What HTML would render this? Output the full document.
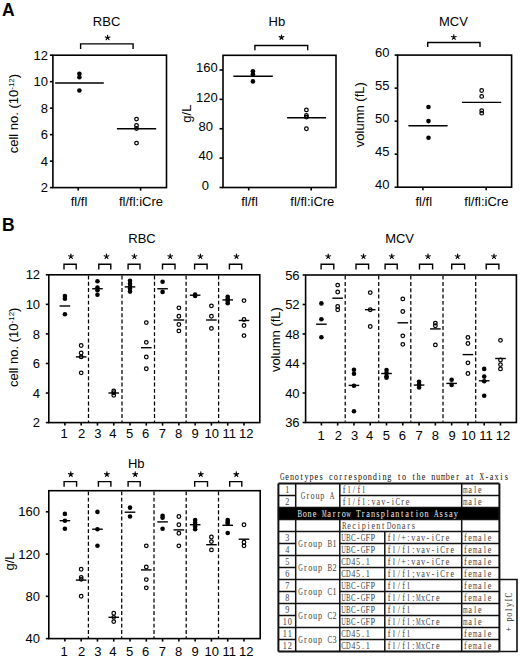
<!DOCTYPE html>
<html><head><meta charset="utf-8"><style>
html,body{margin:0;padding:0;background:#fff;width:520px;height:661px;overflow:hidden}
svg{display:block}
</style></head><body>
<svg width="520" height="661" viewBox="0 0 520 661" font-family='"Liberation Sans", sans-serif' fill="#000" stroke="#000">
<g class="charts">
<text stroke="none" x="2.00" y="16.00" text-anchor="start" font-size="17.5" font-weight="bold">A</text>
<rect x="52.90" y="55.20" width="113.60" height="132.40" fill="none" stroke-width="1.6"/>
<line x1="49.90" y1="187.60" x2="52.90" y2="187.60" stroke-width="1.6" />
<text stroke="none" x="47.90" y="192.20" text-anchor="end" font-size="13" >2</text>
<line x1="49.90" y1="161.12" x2="52.90" y2="161.12" stroke-width="1.6" />
<text stroke="none" x="47.90" y="165.72" text-anchor="end" font-size="13" >4</text>
<line x1="49.90" y1="134.64" x2="52.90" y2="134.64" stroke-width="1.6" />
<text stroke="none" x="47.90" y="139.24" text-anchor="end" font-size="13" >6</text>
<line x1="49.90" y1="108.16" x2="52.90" y2="108.16" stroke-width="1.6" />
<text stroke="none" x="47.90" y="112.76" text-anchor="end" font-size="13" >8</text>
<line x1="49.90" y1="81.68" x2="52.90" y2="81.68" stroke-width="1.6" />
<text stroke="none" x="47.90" y="86.28" text-anchor="end" font-size="13" >10</text>
<line x1="49.90" y1="55.20" x2="52.90" y2="55.20" stroke-width="1.6" />
<text stroke="none" x="47.90" y="59.80" text-anchor="end" font-size="13" >12</text>
<line x1="78.20" y1="187.60" x2="78.20" y2="190.60" stroke-width="1.6" />
<line x1="140.60" y1="187.60" x2="140.60" y2="190.60" stroke-width="1.6" />
<text stroke="none" x="79.00" y="205.70" text-anchor="middle" font-size="13" >fl/fl</text>
<text stroke="none" x="141.00" y="205.70" text-anchor="middle" font-size="13" >fl/fl:iCre</text>
<text stroke="none" x="106.60" y="25.60" text-anchor="middle" font-size="13" >RBC</text>
<path d="M80.60,49.00 V43.90 H133.10 V49.00" fill="none" stroke-width="1.4" stroke-linejoin="miter"/>
<path d="M107.60,37.70L107.60,35.25M107.60,37.70L109.93,36.94M107.60,37.70L109.04,39.68M107.60,37.70L106.16,39.68M107.60,37.70L105.27,36.94" fill="none" stroke-width="1.15" stroke-linecap="round"/>
<text stroke="none" transform="translate(17.80,113.60) rotate(-90)" text-anchor="middle" font-size="13">cell no. (10<tspan font-size="8" dy="-3.8">-12</tspan><tspan dy="3.8">)</tspan></text>
<circle cx="79.40" cy="73.80" r="2.3" fill="#000" stroke="none"/>
<circle cx="79.40" cy="77.30" r="2.3" fill="#000" stroke="none"/>
<circle cx="79.40" cy="90.50" r="2.3" fill="#000" stroke="none"/>
<line x1="55.10" y1="83.00" x2="103.80" y2="83.00" stroke-width="1.4" />
<circle cx="136.50" cy="119.10" r="1.8" fill="none" stroke-width="1.25"/>
<circle cx="136.50" cy="125.50" r="1.8" fill="none" stroke-width="1.25"/>
<circle cx="136.50" cy="128.50" r="1.8" fill="none" stroke-width="1.25"/>
<circle cx="136.50" cy="143.10" r="1.8" fill="none" stroke-width="1.25"/>
<line x1="116.90" y1="128.80" x2="156.20" y2="128.80" stroke-width="1.4" />
<rect x="223.00" y="55.30" width="113.00" height="132.20" fill="none" stroke-width="1.6"/>
<line x1="219.50" y1="187.50" x2="223.00" y2="187.50" stroke-width="1.6" />
<text stroke="none" x="205.45" y="189.65" text-anchor="middle" font-size="13" >0</text>
<line x1="219.50" y1="158.12" x2="223.00" y2="158.12" stroke-width="1.6" />
<text stroke="none" x="205.85" y="160.27" text-anchor="middle" font-size="13" >40</text>
<line x1="219.50" y1="128.74" x2="223.00" y2="128.74" stroke-width="1.6" />
<text stroke="none" x="205.75" y="130.89" text-anchor="middle" font-size="13" >80</text>
<line x1="219.50" y1="99.37" x2="223.00" y2="99.37" stroke-width="1.6" />
<text stroke="none" x="206.90" y="101.52" text-anchor="middle" font-size="13" >120</text>
<line x1="219.50" y1="69.99" x2="223.00" y2="69.99" stroke-width="1.6" />
<text stroke="none" x="206.80" y="72.14" text-anchor="middle" font-size="13" >160</text>
<line x1="248.70" y1="187.50" x2="248.70" y2="190.50" stroke-width="1.6" />
<line x1="311.20" y1="187.50" x2="311.20" y2="190.50" stroke-width="1.6" />
<text stroke="none" x="249.50" y="205.70" text-anchor="middle" font-size="13" >fl/fl</text>
<text stroke="none" x="312.30" y="205.70" text-anchor="middle" font-size="13" >fl/fl:iCre</text>
<text stroke="none" x="276.90" y="26.00" text-anchor="middle" font-size="13" >Hb</text>
<path d="M254.90,50.30 V45.45 H307.70 V50.30" fill="none" stroke-width="1.4" stroke-linejoin="miter"/>
<path d="M281.50,37.40L281.50,34.95M281.50,37.40L283.83,36.64M281.50,37.40L282.94,39.38M281.50,37.40L280.06,39.38M281.50,37.40L279.17,36.64" fill="none" stroke-width="1.15" stroke-linecap="round"/>
<text stroke="none" transform="translate(190.60,113.60) rotate(-90)" text-anchor="middle" font-size="13">g/L</text>
<circle cx="252.90" cy="71.30" r="2.3" fill="#000" stroke="none"/>
<circle cx="252.90" cy="74.20" r="2.3" fill="#000" stroke="none"/>
<circle cx="252.90" cy="81.40" r="2.3" fill="#000" stroke="none"/>
<line x1="233.30" y1="76.20" x2="272.80" y2="76.20" stroke-width="1.4" />
<circle cx="306.40" cy="109.90" r="1.8" fill="none" stroke-width="1.25"/>
<circle cx="306.40" cy="115.40" r="1.8" fill="none" stroke-width="1.25"/>
<circle cx="306.40" cy="117.10" r="1.8" fill="none" stroke-width="1.25"/>
<circle cx="306.40" cy="128.70" r="1.8" fill="none" stroke-width="1.25"/>
<line x1="287.10" y1="117.80" x2="326.10" y2="117.80" stroke-width="1.4" />
<rect x="397.60" y="55.10" width="114.00" height="132.10" fill="none" stroke-width="1.6"/>
<line x1="394.60" y1="187.20" x2="397.60" y2="187.20" stroke-width="1.6" />
<text stroke="none" x="389.50" y="189.35" text-anchor="end" font-size="13" >40</text>
<line x1="394.60" y1="154.17" x2="397.60" y2="154.17" stroke-width="1.6" />
<text stroke="none" x="389.50" y="156.32" text-anchor="end" font-size="13" >45</text>
<line x1="394.60" y1="121.15" x2="397.60" y2="121.15" stroke-width="1.6" />
<text stroke="none" x="389.50" y="123.30" text-anchor="end" font-size="13" >50</text>
<line x1="394.60" y1="88.12" x2="397.60" y2="88.12" stroke-width="1.6" />
<text stroke="none" x="389.50" y="90.27" text-anchor="end" font-size="13" >55</text>
<line x1="394.60" y1="55.10" x2="397.60" y2="55.10" stroke-width="1.6" />
<text stroke="none" x="389.50" y="57.25" text-anchor="end" font-size="13" >60</text>
<line x1="422.90" y1="187.20" x2="422.90" y2="190.20" stroke-width="1.6" />
<line x1="486.20" y1="187.20" x2="486.20" y2="190.20" stroke-width="1.6" />
<text stroke="none" x="423.80" y="205.70" text-anchor="middle" font-size="13" >fl/fl</text>
<text stroke="none" x="486.40" y="205.70" text-anchor="middle" font-size="13" >fl/fl:iCre</text>
<text stroke="none" x="453.40" y="25.60" text-anchor="middle" font-size="13" >MCV</text>
<path d="M427.70,47.10 V42.50 H480.00 V47.10" fill="none" stroke-width="1.4" stroke-linejoin="miter"/>
<path d="M453.80,37.30L453.80,34.85M453.80,37.30L456.13,36.54M453.80,37.30L455.24,39.28M453.80,37.30L452.36,39.28M453.80,37.30L451.47,36.54" fill="none" stroke-width="1.15" stroke-linecap="round"/>
<text stroke="none" transform="translate(363.50,114.70) rotate(-90)" text-anchor="middle" font-size="13">volumn (fL)</text>
<circle cx="428.50" cy="107.00" r="2.3" fill="#000" stroke="none"/>
<circle cx="428.50" cy="121.10" r="2.3" fill="#000" stroke="none"/>
<circle cx="428.50" cy="137.70" r="2.3" fill="#000" stroke="none"/>
<line x1="408.40" y1="125.70" x2="447.60" y2="125.70" stroke-width="1.4" />
<circle cx="481.70" cy="90.50" r="1.8" fill="none" stroke-width="1.25"/>
<circle cx="481.70" cy="96.40" r="1.8" fill="none" stroke-width="1.25"/>
<circle cx="481.70" cy="110.60" r="1.8" fill="none" stroke-width="1.25"/>
<circle cx="481.70" cy="113.20" r="1.8" fill="none" stroke-width="1.25"/>
<line x1="461.90" y1="102.40" x2="501.20" y2="102.40" stroke-width="1.4" />
<text stroke="none" x="2.00" y="230.80" text-anchor="start" font-size="17.5" font-weight="bold">B</text>
<rect x="48.80" y="274.80" width="211.00" height="147.80" fill="none" stroke-width="1.6"/>
<line x1="45.80" y1="422.60" x2="48.80" y2="422.60" stroke-width="1.6" />
<text stroke="none" x="40.10" y="427.20" text-anchor="end" font-size="13" >2</text>
<line x1="45.80" y1="393.04" x2="48.80" y2="393.04" stroke-width="1.6" />
<text stroke="none" x="40.10" y="397.64" text-anchor="end" font-size="13" >4</text>
<line x1="45.80" y1="363.48" x2="48.80" y2="363.48" stroke-width="1.6" />
<text stroke="none" x="40.10" y="368.08" text-anchor="end" font-size="13" >6</text>
<line x1="45.80" y1="333.92" x2="48.80" y2="333.92" stroke-width="1.6" />
<text stroke="none" x="40.10" y="338.52" text-anchor="end" font-size="13" >8</text>
<line x1="45.80" y1="304.36" x2="48.80" y2="304.36" stroke-width="1.6" />
<text stroke="none" x="40.10" y="308.96" text-anchor="end" font-size="13" >10</text>
<line x1="45.80" y1="274.80" x2="48.80" y2="274.80" stroke-width="1.6" />
<text stroke="none" x="40.10" y="279.40" text-anchor="end" font-size="13" >12</text>
<line x1="64.90" y1="422.60" x2="64.90" y2="425.60" stroke-width="1.6" />
<text stroke="none" x="64.20" y="438.40" text-anchor="middle" font-size="13" >1</text>
<line x1="81.18" y1="422.60" x2="81.18" y2="425.60" stroke-width="1.6" />
<text stroke="none" x="81.50" y="438.40" text-anchor="middle" font-size="13" >2</text>
<line x1="97.46" y1="422.60" x2="97.46" y2="425.60" stroke-width="1.6" />
<text stroke="none" x="97.80" y="438.40" text-anchor="middle" font-size="13" >3</text>
<line x1="113.74" y1="422.60" x2="113.74" y2="425.60" stroke-width="1.6" />
<text stroke="none" x="112.90" y="438.40" text-anchor="middle" font-size="13" >4</text>
<line x1="130.02" y1="422.60" x2="130.02" y2="425.60" stroke-width="1.6" />
<text stroke="none" x="129.60" y="438.40" text-anchor="middle" font-size="13" >5</text>
<line x1="146.30" y1="422.60" x2="146.30" y2="425.60" stroke-width="1.6" />
<text stroke="none" x="145.60" y="438.40" text-anchor="middle" font-size="13" >6</text>
<line x1="162.58" y1="422.60" x2="162.58" y2="425.60" stroke-width="1.6" />
<text stroke="none" x="162.30" y="438.40" text-anchor="middle" font-size="13" >7</text>
<line x1="178.86" y1="422.60" x2="178.86" y2="425.60" stroke-width="1.6" />
<text stroke="none" x="178.50" y="438.40" text-anchor="middle" font-size="13" >8</text>
<line x1="195.14" y1="422.60" x2="195.14" y2="425.60" stroke-width="1.6" />
<text stroke="none" x="195.20" y="438.40" text-anchor="middle" font-size="13" >9</text>
<line x1="211.42" y1="422.60" x2="211.42" y2="425.60" stroke-width="1.6" />
<text stroke="none" x="211.80" y="438.40" text-anchor="middle" font-size="13" >10</text>
<line x1="227.70" y1="422.60" x2="227.70" y2="425.60" stroke-width="1.6" />
<text stroke="none" x="229.20" y="438.40" text-anchor="middle" font-size="13" >11</text>
<line x1="243.98" y1="422.60" x2="243.98" y2="425.60" stroke-width="1.6" />
<text stroke="none" x="246.30" y="438.40" text-anchor="middle" font-size="13" >12</text>
<line x1="88.50" y1="275.50" x2="88.50" y2="421.90" stroke-width="1.25" stroke-dasharray="3.9,2.4"/>
<line x1="122.00" y1="275.50" x2="122.00" y2="421.90" stroke-width="1.25" stroke-dasharray="3.9,2.4"/>
<line x1="154.50" y1="275.50" x2="154.50" y2="421.90" stroke-width="1.25" stroke-dasharray="3.9,2.4"/>
<line x1="186.10" y1="275.50" x2="186.10" y2="421.90" stroke-width="1.25" stroke-dasharray="3.9,2.4"/>
<line x1="218.60" y1="275.50" x2="218.60" y2="421.90" stroke-width="1.25" stroke-dasharray="3.9,2.4"/>
<text stroke="none" x="142.00" y="243.30" text-anchor="middle" font-size="13" >RBC</text>
<path d="M64.00,269.40 V264.20 H76.20 V269.40" fill="none" stroke-width="1.4" stroke-linejoin="miter"/>
<path d="M70.90,256.50L70.90,254.05M70.90,256.50L73.23,255.74M70.90,256.50L72.34,258.48M70.90,256.50L69.46,258.48M70.90,256.50L68.57,255.74" fill="none" stroke-width="1.15" stroke-linecap="round"/>
<path d="M98.80,269.40 V264.20 H110.80 V269.40" fill="none" stroke-width="1.4" stroke-linejoin="miter"/>
<path d="M106.50,256.50L106.50,254.05M106.50,256.50L108.83,255.74M106.50,256.50L107.94,258.48M106.50,256.50L105.06,258.48M106.50,256.50L104.17,255.74" fill="none" stroke-width="1.15" stroke-linecap="round"/>
<path d="M128.10,269.40 V264.20 H140.00 V269.40" fill="none" stroke-width="1.4" stroke-linejoin="miter"/>
<path d="M134.40,256.50L134.40,254.05M134.40,256.50L136.73,255.74M134.40,256.50L135.84,258.48M134.40,256.50L132.96,258.48M134.40,256.50L132.07,255.74" fill="none" stroke-width="1.15" stroke-linecap="round"/>
<path d="M162.50,269.40 V264.20 H175.00 V269.40" fill="none" stroke-width="1.4" stroke-linejoin="miter"/>
<path d="M170.20,256.50L170.20,254.05M170.20,256.50L172.53,255.74M170.20,256.50L171.64,258.48M170.20,256.50L168.76,258.48M170.20,256.50L167.87,255.74" fill="none" stroke-width="1.15" stroke-linecap="round"/>
<path d="M194.60,269.40 V264.20 H207.10 V269.40" fill="none" stroke-width="1.4" stroke-linejoin="miter"/>
<path d="M200.40,256.50L200.40,254.05M200.40,256.50L202.73,255.74M200.40,256.50L201.84,258.48M200.40,256.50L198.96,258.48M200.40,256.50L198.07,255.74" fill="none" stroke-width="1.15" stroke-linecap="round"/>
<path d="M229.40,269.40 V264.20 H241.70 V269.40" fill="none" stroke-width="1.4" stroke-linejoin="miter"/>
<path d="M236.50,256.50L236.50,254.05M236.50,256.50L238.83,255.74M236.50,256.50L237.94,258.48M236.50,256.50L235.06,258.48M236.50,256.50L234.17,255.74" fill="none" stroke-width="1.15" stroke-linecap="round"/>
<circle cx="64.90" cy="296.00" r="2.3" fill="#000" stroke="none"/>
<circle cx="64.90" cy="298.80" r="2.3" fill="#000" stroke="none"/>
<circle cx="64.90" cy="314.30" r="2.3" fill="#000" stroke="none"/>
<line x1="59.60" y1="306.00" x2="70.20" y2="306.00" stroke-width="1.4" />
<circle cx="81.18" cy="345.50" r="1.8" fill="none" stroke-width="1.25"/>
<circle cx="81.18" cy="353.00" r="1.8" fill="none" stroke-width="1.25"/>
<circle cx="81.18" cy="356.90" r="1.8" fill="none" stroke-width="1.25"/>
<circle cx="81.18" cy="372.80" r="1.8" fill="none" stroke-width="1.25"/>
<line x1="75.88" y1="356.90" x2="86.48" y2="356.90" stroke-width="1.4" />
<circle cx="97.46" cy="281.25" r="2.3" fill="#000" stroke="none"/>
<circle cx="97.46" cy="287.60" r="2.3" fill="#000" stroke="none"/>
<circle cx="97.46" cy="290.20" r="2.3" fill="#000" stroke="none"/>
<circle cx="97.46" cy="294.80" r="2.3" fill="#000" stroke="none"/>
<line x1="92.16" y1="288.75" x2="102.76" y2="288.75" stroke-width="1.4" />
<circle cx="113.74" cy="391.00" r="1.8" fill="none" stroke-width="1.25"/>
<circle cx="113.74" cy="392.70" r="1.8" fill="none" stroke-width="1.25"/>
<circle cx="113.74" cy="395.30" r="1.8" fill="none" stroke-width="1.25"/>
<line x1="108.44" y1="393.00" x2="119.04" y2="393.00" stroke-width="1.4" />
<circle cx="130.02" cy="280.80" r="2.3" fill="#000" stroke="none"/>
<circle cx="130.02" cy="283.70" r="2.3" fill="#000" stroke="none"/>
<circle cx="130.02" cy="286.60" r="2.3" fill="#000" stroke="none"/>
<circle cx="130.02" cy="288.80" r="2.3" fill="#000" stroke="none"/>
<circle cx="130.02" cy="291.60" r="2.3" fill="#000" stroke="none"/>
<line x1="124.72" y1="286.90" x2="135.32" y2="286.90" stroke-width="1.4" />
<circle cx="146.30" cy="322.60" r="1.8" fill="none" stroke-width="1.25"/>
<circle cx="146.30" cy="342.30" r="1.8" fill="none" stroke-width="1.25"/>
<circle cx="146.30" cy="357.00" r="1.8" fill="none" stroke-width="1.25"/>
<circle cx="146.30" cy="368.70" r="1.8" fill="none" stroke-width="1.25"/>
<line x1="141.00" y1="347.70" x2="151.60" y2="347.70" stroke-width="1.4" />
<circle cx="162.58" cy="281.80" r="2.3" fill="#000" stroke="none"/>
<circle cx="162.58" cy="291.90" r="2.3" fill="#000" stroke="none"/>
<line x1="157.28" y1="288.75" x2="167.88" y2="288.75" stroke-width="1.4" />
<circle cx="178.86" cy="307.80" r="1.8" fill="none" stroke-width="1.25"/>
<circle cx="178.86" cy="316.20" r="1.8" fill="none" stroke-width="1.25"/>
<circle cx="178.86" cy="324.50" r="1.8" fill="none" stroke-width="1.25"/>
<circle cx="178.86" cy="330.90" r="1.8" fill="none" stroke-width="1.25"/>
<line x1="173.56" y1="320.00" x2="184.16" y2="320.00" stroke-width="1.4" />
<circle cx="195.14" cy="294.50" r="2.3" fill="#000" stroke="none"/>
<circle cx="195.14" cy="296.00" r="2.3" fill="#000" stroke="none"/>
<line x1="189.84" y1="295.20" x2="200.44" y2="295.20" stroke-width="1.4" />
<circle cx="211.42" cy="305.80" r="1.8" fill="none" stroke-width="1.25"/>
<circle cx="211.42" cy="316.20" r="1.8" fill="none" stroke-width="1.25"/>
<circle cx="211.42" cy="328.40" r="1.8" fill="none" stroke-width="1.25"/>
<line x1="206.12" y1="320.00" x2="216.72" y2="320.00" stroke-width="1.4" />
<circle cx="227.70" cy="296.70" r="2.3" fill="#000" stroke="none"/>
<circle cx="227.70" cy="298.80" r="2.3" fill="#000" stroke="none"/>
<circle cx="227.70" cy="301.00" r="2.3" fill="#000" stroke="none"/>
<circle cx="227.70" cy="303.20" r="2.3" fill="#000" stroke="none"/>
<line x1="222.40" y1="299.90" x2="233.00" y2="299.90" stroke-width="1.4" />
<circle cx="243.98" cy="300.60" r="1.8" fill="none" stroke-width="1.25"/>
<circle cx="243.98" cy="319.50" r="1.8" fill="none" stroke-width="1.25"/>
<circle cx="243.98" cy="325.50" r="1.8" fill="none" stroke-width="1.25"/>
<circle cx="243.98" cy="335.60" r="1.8" fill="none" stroke-width="1.25"/>
<line x1="238.68" y1="320.50" x2="249.28" y2="320.50" stroke-width="1.4" />
<text stroke="none" transform="translate(17.80,347.30) rotate(-90)" text-anchor="middle" font-size="13">cell no. (10<tspan font-size="8" dy="-3.8">-12</tspan><tspan dy="3.8">)</tspan></text>
<rect x="305.60" y="275.00" width="210.80" height="147.50" fill="none" stroke-width="1.6"/>
<line x1="302.60" y1="422.50" x2="305.60" y2="422.50" stroke-width="1.6" />
<text stroke="none" x="299.60" y="427.10" text-anchor="end" font-size="13" >36</text>
<line x1="302.60" y1="393.00" x2="305.60" y2="393.00" stroke-width="1.6" />
<text stroke="none" x="299.60" y="397.60" text-anchor="end" font-size="13" >40</text>
<line x1="302.60" y1="363.50" x2="305.60" y2="363.50" stroke-width="1.6" />
<text stroke="none" x="299.60" y="368.10" text-anchor="end" font-size="13" >44</text>
<line x1="302.60" y1="334.00" x2="305.60" y2="334.00" stroke-width="1.6" />
<text stroke="none" x="299.60" y="338.60" text-anchor="end" font-size="13" >48</text>
<line x1="302.60" y1="304.50" x2="305.60" y2="304.50" stroke-width="1.6" />
<text stroke="none" x="299.60" y="309.10" text-anchor="end" font-size="13" >52</text>
<line x1="302.60" y1="275.00" x2="305.60" y2="275.00" stroke-width="1.6" />
<text stroke="none" x="299.60" y="279.60" text-anchor="end" font-size="13" >56</text>
<line x1="321.40" y1="422.50" x2="321.40" y2="425.50" stroke-width="1.6" />
<text stroke="none" x="321.00" y="439.50" text-anchor="middle" font-size="13" >1</text>
<line x1="337.68" y1="422.50" x2="337.68" y2="425.50" stroke-width="1.6" />
<text stroke="none" x="338.30" y="439.50" text-anchor="middle" font-size="13" >2</text>
<line x1="353.96" y1="422.50" x2="353.96" y2="425.50" stroke-width="1.6" />
<text stroke="none" x="354.60" y="439.50" text-anchor="middle" font-size="13" >3</text>
<line x1="370.24" y1="422.50" x2="370.24" y2="425.50" stroke-width="1.6" />
<text stroke="none" x="369.70" y="439.50" text-anchor="middle" font-size="13" >4</text>
<line x1="386.52" y1="422.50" x2="386.52" y2="425.50" stroke-width="1.6" />
<text stroke="none" x="386.40" y="439.50" text-anchor="middle" font-size="13" >5</text>
<line x1="402.80" y1="422.50" x2="402.80" y2="425.50" stroke-width="1.6" />
<text stroke="none" x="402.40" y="439.50" text-anchor="middle" font-size="13" >6</text>
<line x1="419.08" y1="422.50" x2="419.08" y2="425.50" stroke-width="1.6" />
<text stroke="none" x="419.10" y="439.50" text-anchor="middle" font-size="13" >7</text>
<line x1="435.36" y1="422.50" x2="435.36" y2="425.50" stroke-width="1.6" />
<text stroke="none" x="435.30" y="439.50" text-anchor="middle" font-size="13" >8</text>
<line x1="451.64" y1="422.50" x2="451.64" y2="425.50" stroke-width="1.6" />
<text stroke="none" x="452.00" y="439.50" text-anchor="middle" font-size="13" >9</text>
<line x1="467.92" y1="422.50" x2="467.92" y2="425.50" stroke-width="1.6" />
<text stroke="none" x="468.60" y="439.50" text-anchor="middle" font-size="13" >10</text>
<line x1="484.20" y1="422.50" x2="484.20" y2="425.50" stroke-width="1.6" />
<text stroke="none" x="486.00" y="439.50" text-anchor="middle" font-size="13" >11</text>
<line x1="500.48" y1="422.50" x2="500.48" y2="425.50" stroke-width="1.6" />
<text stroke="none" x="503.10" y="439.50" text-anchor="middle" font-size="13" >12</text>
<line x1="345.20" y1="275.70" x2="345.20" y2="421.80" stroke-width="1.25" stroke-dasharray="3.9,2.4"/>
<line x1="378.70" y1="275.70" x2="378.70" y2="421.80" stroke-width="1.25" stroke-dasharray="3.9,2.4"/>
<line x1="410.80" y1="275.70" x2="410.80" y2="421.80" stroke-width="1.25" stroke-dasharray="3.9,2.4"/>
<line x1="443.00" y1="275.70" x2="443.00" y2="421.80" stroke-width="1.25" stroke-dasharray="3.9,2.4"/>
<line x1="475.70" y1="275.70" x2="475.70" y2="421.80" stroke-width="1.25" stroke-dasharray="3.9,2.4"/>
<text stroke="none" x="399.60" y="243.20" text-anchor="middle" font-size="13" >MCV</text>
<path d="M321.10,269.40 V264.20 H333.80 V269.40" fill="none" stroke-width="1.4" stroke-linejoin="miter"/>
<path d="M328.20,256.50L328.20,254.05M328.20,256.50L330.53,255.74M328.20,256.50L329.64,258.48M328.20,256.50L326.76,258.48M328.20,256.50L325.87,255.74" fill="none" stroke-width="1.15" stroke-linecap="round"/>
<path d="M356.00,269.40 V264.20 H368.60 V269.40" fill="none" stroke-width="1.4" stroke-linejoin="miter"/>
<path d="M363.50,256.50L363.50,254.05M363.50,256.50L365.83,255.74M363.50,256.50L364.94,258.48M363.50,256.50L362.06,258.48M363.50,256.50L361.17,255.74" fill="none" stroke-width="1.15" stroke-linecap="round"/>
<path d="M385.10,269.40 V264.20 H397.20 V269.40" fill="none" stroke-width="1.4" stroke-linejoin="miter"/>
<path d="M391.80,256.50L391.80,254.05M391.80,256.50L394.13,255.74M391.80,256.50L393.24,258.48M391.80,256.50L390.36,258.48M391.80,256.50L389.47,255.74" fill="none" stroke-width="1.15" stroke-linecap="round"/>
<path d="M419.50,269.40 V264.20 H432.60 V269.40" fill="none" stroke-width="1.4" stroke-linejoin="miter"/>
<path d="M428.00,256.50L428.00,254.05M428.00,256.50L430.33,255.74M428.00,256.50L429.44,258.48M428.00,256.50L426.56,258.48M428.00,256.50L425.67,255.74" fill="none" stroke-width="1.15" stroke-linecap="round"/>
<path d="M451.70,269.40 V264.20 H464.60 V269.40" fill="none" stroke-width="1.4" stroke-linejoin="miter"/>
<path d="M457.60,256.50L457.60,254.05M457.60,256.50L459.93,255.74M457.60,256.50L459.04,258.48M457.60,256.50L456.16,258.48M457.60,256.50L455.27,255.74" fill="none" stroke-width="1.15" stroke-linecap="round"/>
<path d="M486.20,269.40 V264.20 H498.90 V269.40" fill="none" stroke-width="1.4" stroke-linejoin="miter"/>
<path d="M494.00,256.50L494.00,254.05M494.00,256.50L496.33,255.74M494.00,256.50L495.44,258.48M494.00,256.50L492.56,258.48M494.00,256.50L491.67,255.74" fill="none" stroke-width="1.15" stroke-linecap="round"/>
<circle cx="321.40" cy="303.40" r="2.3" fill="#000" stroke="none"/>
<circle cx="321.40" cy="319.20" r="2.3" fill="#000" stroke="none"/>
<circle cx="321.40" cy="337.20" r="2.3" fill="#000" stroke="none"/>
<line x1="316.10" y1="324.20" x2="326.70" y2="324.20" stroke-width="1.4" />
<circle cx="337.68" cy="285.10" r="1.8" fill="none" stroke-width="1.25"/>
<circle cx="337.68" cy="292.00" r="1.8" fill="none" stroke-width="1.25"/>
<circle cx="337.68" cy="306.50" r="1.8" fill="none" stroke-width="1.25"/>
<circle cx="337.68" cy="309.70" r="1.8" fill="none" stroke-width="1.25"/>
<line x1="332.38" y1="298.20" x2="342.98" y2="298.20" stroke-width="1.4" />
<circle cx="353.96" cy="369.70" r="2.3" fill="#000" stroke="none"/>
<circle cx="353.96" cy="373.80" r="2.3" fill="#000" stroke="none"/>
<circle cx="353.96" cy="385.70" r="2.3" fill="#000" stroke="none"/>
<circle cx="353.96" cy="411.20" r="2.3" fill="#000" stroke="none"/>
<line x1="348.66" y1="385.40" x2="359.26" y2="385.40" stroke-width="1.4" />
<circle cx="370.24" cy="292.60" r="1.8" fill="none" stroke-width="1.25"/>
<circle cx="370.24" cy="309.70" r="1.8" fill="none" stroke-width="1.25"/>
<circle cx="370.24" cy="326.50" r="1.8" fill="none" stroke-width="1.25"/>
<line x1="364.94" y1="309.70" x2="375.54" y2="309.70" stroke-width="1.4" />
<circle cx="386.52" cy="370.00" r="2.3" fill="#000" stroke="none"/>
<circle cx="386.52" cy="373.10" r="2.3" fill="#000" stroke="none"/>
<circle cx="386.52" cy="376.20" r="2.3" fill="#000" stroke="none"/>
<circle cx="386.52" cy="377.70" r="2.3" fill="#000" stroke="none"/>
<line x1="381.22" y1="373.50" x2="391.82" y2="373.50" stroke-width="1.4" />
<circle cx="402.80" cy="298.90" r="1.8" fill="none" stroke-width="1.25"/>
<circle cx="402.80" cy="311.50" r="1.8" fill="none" stroke-width="1.25"/>
<circle cx="402.80" cy="335.80" r="1.8" fill="none" stroke-width="1.25"/>
<circle cx="402.80" cy="344.30" r="1.8" fill="none" stroke-width="1.25"/>
<line x1="397.50" y1="322.80" x2="408.10" y2="322.80" stroke-width="1.4" />
<circle cx="419.08" cy="381.80" r="2.3" fill="#000" stroke="none"/>
<circle cx="419.08" cy="384.60" r="2.3" fill="#000" stroke="none"/>
<circle cx="419.08" cy="387.40" r="2.3" fill="#000" stroke="none"/>
<line x1="413.78" y1="385.10" x2="424.38" y2="385.10" stroke-width="1.4" />
<circle cx="435.36" cy="323.10" r="1.8" fill="none" stroke-width="1.25"/>
<circle cx="435.36" cy="325.70" r="1.8" fill="none" stroke-width="1.25"/>
<circle cx="435.36" cy="344.90" r="1.8" fill="none" stroke-width="1.25"/>
<line x1="430.06" y1="328.90" x2="440.66" y2="328.90" stroke-width="1.4" />
<circle cx="451.64" cy="379.70" r="2.3" fill="#000" stroke="none"/>
<circle cx="451.64" cy="384.90" r="2.3" fill="#000" stroke="none"/>
<line x1="446.34" y1="383.40" x2="456.94" y2="383.40" stroke-width="1.4" />
<circle cx="467.92" cy="337.40" r="1.8" fill="none" stroke-width="1.25"/>
<circle cx="467.92" cy="343.50" r="1.8" fill="none" stroke-width="1.25"/>
<circle cx="467.92" cy="362.80" r="1.8" fill="none" stroke-width="1.25"/>
<circle cx="467.92" cy="373.50" r="1.8" fill="none" stroke-width="1.25"/>
<line x1="462.62" y1="354.60" x2="473.22" y2="354.60" stroke-width="1.4" />
<circle cx="484.20" cy="368.90" r="2.3" fill="#000" stroke="none"/>
<circle cx="484.20" cy="376.60" r="2.3" fill="#000" stroke="none"/>
<circle cx="484.20" cy="381.20" r="2.3" fill="#000" stroke="none"/>
<circle cx="484.20" cy="395.80" r="2.3" fill="#000" stroke="none"/>
<line x1="478.90" y1="380.80" x2="489.50" y2="380.80" stroke-width="1.4" />
<circle cx="500.48" cy="340.30" r="1.8" fill="none" stroke-width="1.25"/>
<circle cx="500.48" cy="360.00" r="1.8" fill="none" stroke-width="1.25"/>
<circle cx="500.48" cy="364.60" r="1.8" fill="none" stroke-width="1.25"/>
<circle cx="500.48" cy="368.90" r="1.8" fill="none" stroke-width="1.25"/>
<line x1="495.18" y1="358.50" x2="505.78" y2="358.50" stroke-width="1.4" />
<text stroke="none" transform="translate(280.30,339.60) rotate(-90)" text-anchor="middle" font-size="13">volumn (fL)</text>
<rect x="48.80" y="490.70" width="211.40" height="147.90" fill="none" stroke-width="1.6"/>
<line x1="45.80" y1="638.60" x2="48.80" y2="638.60" stroke-width="1.6" />
<text stroke="none" x="40.00" y="643.20" text-anchor="end" font-size="13" >40</text>
<line x1="45.80" y1="596.34" x2="48.80" y2="596.34" stroke-width="1.6" />
<text stroke="none" x="40.00" y="600.94" text-anchor="end" font-size="13" >80</text>
<line x1="45.80" y1="554.09" x2="48.80" y2="554.09" stroke-width="1.6" />
<text stroke="none" x="40.00" y="558.69" text-anchor="end" font-size="13" >120</text>
<line x1="45.80" y1="511.83" x2="48.80" y2="511.83" stroke-width="1.6" />
<text stroke="none" x="40.00" y="516.43" text-anchor="end" font-size="13" >160</text>
<line x1="64.90" y1="638.60" x2="64.90" y2="641.60" stroke-width="1.6" />
<text stroke="none" x="64.20" y="656.20" text-anchor="middle" font-size="13" >1</text>
<line x1="81.18" y1="638.60" x2="81.18" y2="641.60" stroke-width="1.6" />
<text stroke="none" x="81.50" y="656.20" text-anchor="middle" font-size="13" >2</text>
<line x1="97.46" y1="638.60" x2="97.46" y2="641.60" stroke-width="1.6" />
<text stroke="none" x="97.80" y="656.20" text-anchor="middle" font-size="13" >3</text>
<line x1="113.74" y1="638.60" x2="113.74" y2="641.60" stroke-width="1.6" />
<text stroke="none" x="112.90" y="656.20" text-anchor="middle" font-size="13" >4</text>
<line x1="130.02" y1="638.60" x2="130.02" y2="641.60" stroke-width="1.6" />
<text stroke="none" x="129.60" y="656.20" text-anchor="middle" font-size="13" >5</text>
<line x1="146.30" y1="638.60" x2="146.30" y2="641.60" stroke-width="1.6" />
<text stroke="none" x="145.60" y="656.20" text-anchor="middle" font-size="13" >6</text>
<line x1="162.58" y1="638.60" x2="162.58" y2="641.60" stroke-width="1.6" />
<text stroke="none" x="162.30" y="656.20" text-anchor="middle" font-size="13" >7</text>
<line x1="178.86" y1="638.60" x2="178.86" y2="641.60" stroke-width="1.6" />
<text stroke="none" x="178.50" y="656.20" text-anchor="middle" font-size="13" >8</text>
<line x1="195.14" y1="638.60" x2="195.14" y2="641.60" stroke-width="1.6" />
<text stroke="none" x="195.20" y="656.20" text-anchor="middle" font-size="13" >9</text>
<line x1="211.42" y1="638.60" x2="211.42" y2="641.60" stroke-width="1.6" />
<text stroke="none" x="211.80" y="656.20" text-anchor="middle" font-size="13" >10</text>
<line x1="227.70" y1="638.60" x2="227.70" y2="641.60" stroke-width="1.6" />
<text stroke="none" x="229.20" y="656.20" text-anchor="middle" font-size="13" >11</text>
<line x1="243.98" y1="638.60" x2="243.98" y2="641.60" stroke-width="1.6" />
<text stroke="none" x="246.30" y="656.20" text-anchor="middle" font-size="13" >12</text>
<line x1="88.40" y1="491.40" x2="88.40" y2="637.90" stroke-width="1.25" stroke-dasharray="3.9,2.4"/>
<line x1="121.70" y1="491.40" x2="121.70" y2="637.90" stroke-width="1.25" stroke-dasharray="3.9,2.4"/>
<line x1="154.00" y1="491.40" x2="154.00" y2="637.90" stroke-width="1.25" stroke-dasharray="3.9,2.4"/>
<line x1="186.20" y1="491.40" x2="186.20" y2="637.90" stroke-width="1.25" stroke-dasharray="3.9,2.4"/>
<line x1="218.50" y1="491.40" x2="218.50" y2="637.90" stroke-width="1.25" stroke-dasharray="3.9,2.4"/>
<text stroke="none" x="136.30" y="467.70" text-anchor="middle" font-size="13" >Hb</text>
<path d="M64.10,486.70 V481.60 H76.60 V486.70" fill="none" stroke-width="1.4" stroke-linejoin="miter"/>
<path d="M70.80,474.35L70.80,471.90M70.80,474.35L73.13,473.59M70.80,474.35L72.24,476.33M70.80,474.35L69.36,476.33M70.80,474.35L68.47,473.59" fill="none" stroke-width="1.15" stroke-linecap="round"/>
<path d="M98.40,486.70 V481.60 H110.90 V486.70" fill="none" stroke-width="1.4" stroke-linejoin="miter"/>
<path d="M106.90,474.35L106.90,471.90M106.90,474.35L109.23,473.59M106.90,474.35L108.34,476.33M106.90,474.35L105.46,476.33M106.90,474.35L104.57,473.59" fill="none" stroke-width="1.15" stroke-linecap="round"/>
<path d="M128.10,486.70 V481.60 H140.20 V486.70" fill="none" stroke-width="1.4" stroke-linejoin="miter"/>
<path d="M135.20,474.35L135.20,471.90M135.20,474.35L137.53,473.59M135.20,474.35L136.64,476.33M135.20,474.35L133.76,476.33M135.20,474.35L132.87,473.59" fill="none" stroke-width="1.15" stroke-linecap="round"/>
<path d="M194.70,486.70 V481.60 H207.50 V486.70" fill="none" stroke-width="1.4" stroke-linejoin="miter"/>
<path d="M200.80,474.35L200.80,471.90M200.80,474.35L203.13,473.59M200.80,474.35L202.24,476.33M200.80,474.35L199.36,476.33M200.80,474.35L198.47,473.59" fill="none" stroke-width="1.15" stroke-linecap="round"/>
<path d="M229.70,486.70 V481.60 H241.80 V486.70" fill="none" stroke-width="1.4" stroke-linejoin="miter"/>
<path d="M236.30,474.35L236.30,471.90M236.30,474.35L238.63,473.59M236.30,474.35L237.74,476.33M236.30,474.35L234.86,476.33M236.30,474.35L233.97,473.59" fill="none" stroke-width="1.15" stroke-linecap="round"/>
<circle cx="64.90" cy="513.90" r="2.3" fill="#000" stroke="none"/>
<circle cx="64.90" cy="520.70" r="2.3" fill="#000" stroke="none"/>
<circle cx="64.90" cy="528.80" r="2.3" fill="#000" stroke="none"/>
<line x1="59.60" y1="520.70" x2="70.20" y2="520.70" stroke-width="1.4" />
<circle cx="81.18" cy="569.20" r="1.8" fill="none" stroke-width="1.25"/>
<circle cx="81.18" cy="577.30" r="1.8" fill="none" stroke-width="1.25"/>
<circle cx="81.18" cy="579.30" r="1.8" fill="none" stroke-width="1.25"/>
<circle cx="81.18" cy="596.20" r="1.8" fill="none" stroke-width="1.25"/>
<line x1="75.88" y1="580.10" x2="86.48" y2="580.10" stroke-width="1.4" />
<circle cx="97.46" cy="511.90" r="2.3" fill="#000" stroke="none"/>
<circle cx="97.46" cy="529.20" r="2.3" fill="#000" stroke="none"/>
<circle cx="97.46" cy="545.80" r="2.3" fill="#000" stroke="none"/>
<line x1="92.16" y1="529.20" x2="102.76" y2="529.20" stroke-width="1.4" />
<circle cx="113.74" cy="613.20" r="1.8" fill="none" stroke-width="1.25"/>
<circle cx="113.74" cy="617.30" r="1.8" fill="none" stroke-width="1.25"/>
<circle cx="113.74" cy="621.60" r="1.8" fill="none" stroke-width="1.25"/>
<line x1="108.44" y1="617.30" x2="119.04" y2="617.30" stroke-width="1.4" />
<circle cx="130.02" cy="507.60" r="2.3" fill="#000" stroke="none"/>
<circle cx="130.02" cy="516.50" r="2.3" fill="#000" stroke="none"/>
<line x1="124.72" y1="512.20" x2="135.32" y2="512.20" stroke-width="1.4" />
<circle cx="146.30" cy="545.80" r="1.8" fill="none" stroke-width="1.25"/>
<circle cx="146.30" cy="567.00" r="1.8" fill="none" stroke-width="1.25"/>
<circle cx="146.30" cy="579.60" r="1.8" fill="none" stroke-width="1.25"/>
<circle cx="146.30" cy="587.80" r="1.8" fill="none" stroke-width="1.25"/>
<line x1="141.00" y1="569.90" x2="151.60" y2="569.90" stroke-width="1.4" />
<circle cx="162.58" cy="515.80" r="2.3" fill="#000" stroke="none"/>
<circle cx="162.58" cy="517.80" r="2.3" fill="#000" stroke="none"/>
<circle cx="162.58" cy="528.80" r="2.3" fill="#000" stroke="none"/>
<line x1="157.28" y1="521.90" x2="167.88" y2="521.90" stroke-width="1.4" />
<circle cx="178.86" cy="516.50" r="1.8" fill="none" stroke-width="1.25"/>
<circle cx="178.86" cy="524.70" r="1.8" fill="none" stroke-width="1.25"/>
<circle cx="178.86" cy="533.20" r="1.8" fill="none" stroke-width="1.25"/>
<circle cx="178.86" cy="545.80" r="1.8" fill="none" stroke-width="1.25"/>
<line x1="173.56" y1="529.90" x2="184.16" y2="529.90" stroke-width="1.4" />
<circle cx="195.14" cy="520.10" r="2.3" fill="#000" stroke="none"/>
<circle cx="195.14" cy="522.70" r="2.3" fill="#000" stroke="none"/>
<circle cx="195.14" cy="526.50" r="2.3" fill="#000" stroke="none"/>
<circle cx="195.14" cy="529.30" r="2.3" fill="#000" stroke="none"/>
<line x1="189.84" y1="524.70" x2="200.44" y2="524.70" stroke-width="1.4" />
<circle cx="211.42" cy="537.00" r="1.8" fill="none" stroke-width="1.25"/>
<circle cx="211.42" cy="541.60" r="1.8" fill="none" stroke-width="1.25"/>
<circle cx="211.42" cy="549.90" r="1.8" fill="none" stroke-width="1.25"/>
<line x1="206.12" y1="544.70" x2="216.72" y2="544.70" stroke-width="1.4" />
<circle cx="227.70" cy="520.10" r="2.3" fill="#000" stroke="none"/>
<circle cx="227.70" cy="521.90" r="2.3" fill="#000" stroke="none"/>
<circle cx="227.70" cy="523.50" r="2.3" fill="#000" stroke="none"/>
<circle cx="227.70" cy="533.00" r="2.3" fill="#000" stroke="none"/>
<line x1="222.40" y1="525.30" x2="233.00" y2="525.30" stroke-width="1.4" />
<circle cx="243.98" cy="524.70" r="1.8" fill="none" stroke-width="1.25"/>
<circle cx="243.98" cy="542.20" r="1.8" fill="none" stroke-width="1.25"/>
<circle cx="243.98" cy="545.80" r="1.8" fill="none" stroke-width="1.25"/>
<line x1="238.68" y1="539.20" x2="249.28" y2="539.20" stroke-width="1.4" />
<text stroke="none" transform="translate(13.80,561.50) rotate(-90)" text-anchor="middle" font-size="13">g/L</text>
</g>
<g class="table" stroke="#111">
<text stroke="none" transform="translate(279.80,480.40) scale(0.8,1)" x="0.00 6.85 12.64 18.73 25.96 30.91 36.99 43.37 49.74 56.54 61.63 67.43 74.38 80.47 85.98 92.35 97.87 103.96 110.04 116.13 123.36 128.31 134.39 141.77 147.71 152.66 160.03 165.98 170.92 177.30 184.38 189.18 195.27 200.89 207.44 213.82 220.48 226.99 232.08 239.03 245.26 249.59 257.00 262.52 268.32 275.55 281.06" y="0" font-family='"Liberation Serif", serif' font-size="10.3" fill="#111" xml:space="preserve"> enotypes corresponding to the nu ber at  -axis</text>
<text stroke="none" transform="translate(279.92,480.40) scale(0.622,1)" x="0" y="0" font-family='"Liberation Serif", serif' font-size="10.3" fill="#111">G</text>
<text stroke="none" transform="translate(440.63,480.40) scale(0.577,1)" x="0" y="0" font-family='"Liberation Serif", serif' font-size="10.3" fill="#111">m</text>
<text stroke="none" transform="translate(479.59,480.40) scale(0.622,1)" x="0" y="0" font-family='"Liberation Serif", serif' font-size="10.3" fill="#111">X</text>
<rect x="278.40" y="507.50" width="221.00" height="12.00" fill="#000"/>
<line x1="278.40" y1="483.50" x2="499.40" y2="483.50" stroke-width="2.0"/>
<line x1="278.40" y1="495.50" x2="295.70" y2="495.50" stroke-width="1.5"/>
<line x1="339.80" y1="495.50" x2="499.40" y2="495.50" stroke-width="1.5"/>
<line x1="278.40" y1="507.50" x2="499.40" y2="507.50" stroke-width="1.5"/>
<line x1="278.40" y1="519.50" x2="499.40" y2="519.50" stroke-width="1.5"/>
<line x1="278.40" y1="531.50" x2="499.40" y2="531.50" stroke-width="1.5"/>
<line x1="278.40" y1="543.50" x2="295.70" y2="543.50" stroke-width="1.5"/>
<line x1="339.80" y1="543.50" x2="499.40" y2="543.50" stroke-width="1.5"/>
<line x1="278.40" y1="555.50" x2="499.40" y2="555.50" stroke-width="1.3"/>
<line x1="278.40" y1="567.50" x2="295.70" y2="567.50" stroke-width="1.5"/>
<line x1="339.80" y1="567.50" x2="499.40" y2="567.50" stroke-width="1.5"/>
<line x1="278.40" y1="579.50" x2="499.40" y2="579.50" stroke-width="1.6"/>
<line x1="278.40" y1="591.50" x2="295.70" y2="591.50" stroke-width="1.5"/>
<line x1="339.80" y1="591.50" x2="499.40" y2="591.50" stroke-width="1.5"/>
<line x1="278.40" y1="603.50" x2="499.40" y2="603.50" stroke-width="1.3"/>
<line x1="278.40" y1="615.50" x2="295.70" y2="615.50" stroke-width="1.5"/>
<line x1="339.80" y1="615.50" x2="499.40" y2="615.50" stroke-width="1.5"/>
<line x1="278.40" y1="627.50" x2="499.40" y2="627.50" stroke-width="1.3"/>
<line x1="278.40" y1="639.50" x2="295.70" y2="639.50" stroke-width="1.5"/>
<line x1="339.80" y1="639.50" x2="499.40" y2="639.50" stroke-width="1.5"/>
<line x1="278.40" y1="651.50" x2="499.40" y2="651.50" stroke-width="2.0"/>
<line x1="278.40" y1="483.50" x2="278.40" y2="651.50" stroke-width="2.0"/>
<line x1="499.40" y1="483.50" x2="499.40" y2="651.50" stroke-width="2.0"/>
<line x1="295.70" y1="483.50" x2="295.70" y2="507.50" stroke-width="1.5"/>
<line x1="295.70" y1="519.50" x2="295.70" y2="651.50" stroke-width="1.5"/>
<line x1="461.70" y1="483.50" x2="461.70" y2="507.50" stroke-width="1.5"/>
<line x1="461.70" y1="519.50" x2="461.70" y2="651.50" stroke-width="1.5"/>
<line x1="339.80" y1="483.50" x2="339.80" y2="507.50" stroke-width="1.5"/>
<line x1="339.80" y1="519.50" x2="339.80" y2="651.50" stroke-width="1.5"/>
<line x1="384.80" y1="531.50" x2="384.80" y2="651.50" stroke-width="1.5"/>
<path d="M499.40,579.50 H517.00 V651.50 H499.40" fill="none" stroke-width="1.6"/>
<g transform="translate(511.6,612.2) rotate(-90)"><text stroke="none" transform="translate(-19.48,0.00) scale(0.8,1)" x="0.00 7.84 12.64 18.73 25.96 30.91 37.85 42.61" y="0" font-family='"Liberation Serif", serif' font-size="10.3" fill="#333" xml:space="preserve">  polyI </text><text stroke="none" transform="translate(-19.36,0.00) scale(0.796,1)" x="0" y="0" font-family='"Liberation Serif", serif' font-size="10.3" fill="#333">+</text><text stroke="none" transform="translate(14.73,0.00) scale(0.673,1)" x="0" y="0" font-family='"Liberation Serif", serif' font-size="10.3" fill="#333">C</text></g>
<text stroke="none" transform="translate(284.91,493.40) scale(0.8,1)" x="0.47" y="0" font-family='"Liberation Serif", serif' font-size="10.3" fill="#444" xml:space="preserve">1</text>
<text stroke="none" transform="translate(284.91,505.40) scale(0.8,1)" x="0.47" y="0" font-family='"Liberation Serif", serif' font-size="10.3" fill="#444" xml:space="preserve">2</text>
<text stroke="none" transform="translate(284.91,541.40) scale(0.8,1)" x="0.47" y="0" font-family='"Liberation Serif", serif' font-size="10.3" fill="#444" xml:space="preserve">3</text>
<text stroke="none" transform="translate(284.91,553.40) scale(0.8,1)" x="0.47" y="0" font-family='"Liberation Serif", serif' font-size="10.3" fill="#444" xml:space="preserve">4</text>
<text stroke="none" transform="translate(284.91,565.40) scale(0.8,1)" x="0.47" y="0" font-family='"Liberation Serif", serif' font-size="10.3" fill="#444" xml:space="preserve">5</text>
<text stroke="none" transform="translate(284.91,577.40) scale(0.8,1)" x="0.47" y="0" font-family='"Liberation Serif", serif' font-size="10.3" fill="#444" xml:space="preserve">6</text>
<text stroke="none" transform="translate(284.91,589.40) scale(0.8,1)" x="0.47" y="0" font-family='"Liberation Serif", serif' font-size="10.3" fill="#444" xml:space="preserve">7</text>
<text stroke="none" transform="translate(284.91,601.40) scale(0.8,1)" x="0.47" y="0" font-family='"Liberation Serif", serif' font-size="10.3" fill="#444" xml:space="preserve">8</text>
<text stroke="none" transform="translate(284.91,613.40) scale(0.8,1)" x="0.47" y="0" font-family='"Liberation Serif", serif' font-size="10.3" fill="#444" xml:space="preserve">9</text>
<text stroke="none" transform="translate(282.48,625.40) scale(0.8,1)" x="0.47 6.56" y="0" font-family='"Liberation Serif", serif' font-size="10.3" fill="#444" xml:space="preserve">10</text>
<text stroke="none" transform="translate(282.48,637.40) scale(0.8,1)" x="0.47 6.56" y="0" font-family='"Liberation Serif", serif' font-size="10.3" fill="#444" xml:space="preserve">11</text>
<text stroke="none" transform="translate(282.48,649.40) scale(0.8,1)" x="0.47 6.56" y="0" font-family='"Liberation Serif", serif' font-size="10.3" fill="#444" xml:space="preserve">12</text>
<text stroke="none" transform="translate(300.50,499.00) scale(0.8,1)" x="0.00 7.42 12.64 18.73 24.82 32.19 36.53" y="0" font-family='"Liberation Serif", serif' font-size="10.3" fill="#444" xml:space="preserve"> roup  </text>
<text stroke="none" transform="translate(300.63,499.00) scale(0.622,1)" x="0" y="0" font-family='"Liberation Serif", serif' font-size="10.3" fill="#444">G</text>
<text stroke="none" transform="translate(329.85,499.00) scale(0.622,1)" x="0" y="0" font-family='"Liberation Serif", serif' font-size="10.3" fill="#444">A</text>
<text stroke="none" transform="translate(298.07,547.00) scale(0.8,1)" x="0.00 7.42 12.64 18.73 24.82 32.19 36.52 43.08" y="0" font-family='"Liberation Serif", serif' font-size="10.3" fill="#444" xml:space="preserve"> roup  1</text>
<text stroke="none" transform="translate(298.19,547.00) scale(0.622,1)" x="0" y="0" font-family='"Liberation Serif", serif' font-size="10.3" fill="#444">G</text>
<text stroke="none" transform="translate(327.41,547.00) scale(0.673,1)" x="0" y="0" font-family='"Liberation Serif", serif' font-size="10.3" fill="#444">B</text>
<text stroke="none" transform="translate(298.07,571.00) scale(0.8,1)" x="0.00 7.42 12.64 18.73 24.82 32.19 36.52 43.08" y="0" font-family='"Liberation Serif", serif' font-size="10.3" fill="#444" xml:space="preserve"> roup  2</text>
<text stroke="none" transform="translate(298.19,571.00) scale(0.622,1)" x="0" y="0" font-family='"Liberation Serif", serif' font-size="10.3" fill="#444">G</text>
<text stroke="none" transform="translate(327.41,571.00) scale(0.673,1)" x="0" y="0" font-family='"Liberation Serif", serif' font-size="10.3" fill="#444">B</text>
<text stroke="none" transform="translate(298.07,595.00) scale(0.8,1)" x="0.00 7.42 12.64 18.73 24.82 32.19 36.52 43.08" y="0" font-family='"Liberation Serif", serif' font-size="10.3" fill="#444" xml:space="preserve"> roup  1</text>
<text stroke="none" transform="translate(298.19,595.00) scale(0.622,1)" x="0" y="0" font-family='"Liberation Serif", serif' font-size="10.3" fill="#444">G</text>
<text stroke="none" transform="translate(327.41,595.00) scale(0.673,1)" x="0" y="0" font-family='"Liberation Serif", serif' font-size="10.3" fill="#444">C</text>
<text stroke="none" transform="translate(298.07,619.00) scale(0.8,1)" x="0.00 7.42 12.64 18.73 24.82 32.19 36.52 43.08" y="0" font-family='"Liberation Serif", serif' font-size="10.3" fill="#444" xml:space="preserve"> roup  2</text>
<text stroke="none" transform="translate(298.19,619.00) scale(0.622,1)" x="0" y="0" font-family='"Liberation Serif", serif' font-size="10.3" fill="#444">G</text>
<text stroke="none" transform="translate(327.41,619.00) scale(0.673,1)" x="0" y="0" font-family='"Liberation Serif", serif' font-size="10.3" fill="#444">C</text>
<text stroke="none" transform="translate(298.07,643.00) scale(0.8,1)" x="0.00 7.42 12.64 18.73 24.82 32.19 36.52 43.08" y="0" font-family='"Liberation Serif", serif' font-size="10.3" fill="#444" xml:space="preserve"> roup  3</text>
<text stroke="none" transform="translate(298.19,643.00) scale(0.622,1)" x="0" y="0" font-family='"Liberation Serif", serif' font-size="10.3" fill="#444">G</text>
<text stroke="none" transform="translate(327.41,643.00) scale(0.673,1)" x="0" y="0" font-family='"Liberation Serif", serif' font-size="10.3" fill="#444">C</text>
<text stroke="none" transform="translate(341.80,493.40) scale(0.8,1)" x="1.33 7.70 13.79 19.59 25.96" y="0" font-family='"Liberation Serif", serif' font-size="10.3" fill="#444" xml:space="preserve">fl/fl</text>
<text stroke="none" transform="translate(341.80,505.40) scale(0.8,1)" x="1.33 7.70 13.79 19.59 25.96 32.05 36.99 43.37 49.17 56.12 62.49 66.96 74.38 79.90" y="0" font-family='"Liberation Serif", serif' font-size="10.3" fill="#444" xml:space="preserve">fl/fl:vav-i re</text>
<text stroke="none" transform="translate(395.49,505.40) scale(0.673,1)" x="0" y="0" font-family='"Liberation Serif", serif' font-size="10.3" fill="#444">C</text>
<text stroke="none" transform="translate(462.90,493.40) scale(0.8,1)" x="0.00 6.85 13.79 19.02" y="0" font-family='"Liberation Serif", serif' font-size="10.3" fill="#444" xml:space="preserve"> ale</text>
<text stroke="none" transform="translate(463.02,493.40) scale(0.577,1)" x="0" y="0" font-family='"Liberation Serif", serif' font-size="10.3" fill="#444">m</text>
<text stroke="none" transform="translate(462.90,505.40) scale(0.8,1)" x="0.00 6.85 13.79 19.02" y="0" font-family='"Liberation Serif", serif' font-size="10.3" fill="#444" xml:space="preserve"> ale</text>
<text stroke="none" transform="translate(463.02,505.40) scale(0.577,1)" x="0" y="0" font-family='"Liberation Serif", serif' font-size="10.3" fill="#444">m</text>
<text stroke="none" transform="translate(297.50,517.40) scale(0.8,1)" x="0.00 6.56 12.64 19.02 26.11 30.44 37.28 43.94 50.03 55.26 60.87 68.72 73.05 80.47 85.98 91.78 98.44 103.96 111.19 116.42 122.22 129.45 134.68 141.63 147.71 152.66 158.74 166.12 170.45 177.58 183.66 189.47 195.27" y="0" font-family='"Liberation Serif", serif' font-size="10.3" fill="#eee" xml:space="preserve"> one  arro   ransplantation  ssay</text>
<text stroke="none" transform="translate(297.62,517.40) scale(0.673,1)" x="0" y="0" font-family='"Liberation Serif", serif' font-size="10.3" fill="#eee">B</text>
<text stroke="none" transform="translate(321.97,517.40) scale(0.505,1)" x="0" y="0" font-family='"Liberation Serif", serif' font-size="10.3" fill="#eee">M</text>
<text stroke="none" transform="translate(346.32,517.40) scale(0.622,1)" x="0" y="0" font-family='"Liberation Serif", serif' font-size="10.3" fill="#eee">w</text>
<text stroke="none" transform="translate(356.06,517.40) scale(0.735,1)" x="0" y="0" font-family='"Liberation Serif", serif' font-size="10.3" fill="#eee">T</text>
<text stroke="none" transform="translate(433.98,517.40) scale(0.622,1)" x="0" y="0" font-family='"Liberation Serif", serif' font-size="10.3" fill="#eee">A</text>
<text stroke="none" transform="translate(341.80,529.40) scale(0.8,1)" x="0.00 6.85 12.93 19.88 24.82 32.05 37.28 43.08 50.31" y="0" font-family='"Liberation Serif", serif' font-size="10.3" fill="#444" xml:space="preserve"> ecipient</text>
<text stroke="none" transform="translate(341.92,529.40) scale(0.673,1)" x="0" y="0" font-family='"Liberation Serif", serif' font-size="10.3" fill="#444">R</text>
<text stroke="none" transform="translate(386.60,529.40) scale(0.8,1)" x="0.00 6.56 12.64 19.02 25.68 31.48" y="0" font-family='"Liberation Serif", serif' font-size="10.3" fill="#444" xml:space="preserve"> onars</text>
<text stroke="none" transform="translate(386.72,529.40) scale(0.622,1)" x="0" y="0" font-family='"Liberation Serif", serif' font-size="10.3" fill="#444">D</text>
<text stroke="none" transform="translate(341.10,541.40) scale(0.8,1)" x="0.00 6.09 12.18 19.59 24.35 30.62 36.70" y="0" font-family='"Liberation Serif", serif' font-size="10.3" fill="#444" xml:space="preserve">   - FP</text>
<text stroke="none" transform="translate(341.22,541.40) scale(0.622,1)" x="0" y="0" font-family='"Liberation Serif", serif' font-size="10.3" fill="#444">U</text>
<text stroke="none" transform="translate(346.09,541.40) scale(0.673,1)" x="0" y="0" font-family='"Liberation Serif", serif' font-size="10.3" fill="#444">B</text>
<text stroke="none" transform="translate(350.96,541.40) scale(0.673,1)" x="0" y="0" font-family='"Liberation Serif", serif' font-size="10.3" fill="#444">C</text>
<text stroke="none" transform="translate(360.70,541.40) scale(0.622,1)" x="0" y="0" font-family='"Liberation Serif", serif' font-size="10.3" fill="#444">G</text>
<text stroke="none" transform="translate(386.60,541.40) scale(0.8,1)" x="1.33 7.70 13.79 18.26 25.96 30.91 37.28 43.08 50.03 56.40 60.87 68.29 73.81" y="0" font-family='"Liberation Serif", serif' font-size="10.3" fill="#444" xml:space="preserve">fl/ :vav-i re</text>
<text stroke="none" transform="translate(401.33,541.40) scale(0.796,1)" x="0" y="0" font-family='"Liberation Serif", serif' font-size="10.3" fill="#444">+</text>
<text stroke="none" transform="translate(435.42,541.40) scale(0.673,1)" x="0" y="0" font-family='"Liberation Serif", serif' font-size="10.3" fill="#444">C</text>
<text stroke="none" transform="translate(462.90,541.40) scale(0.8,1)" x="1.33 6.85 12.18 19.02 25.96 31.20" y="0" font-family='"Liberation Serif", serif' font-size="10.3" fill="#444" xml:space="preserve">fe ale</text>
<text stroke="none" transform="translate(472.76,541.40) scale(0.577,1)" x="0" y="0" font-family='"Liberation Serif", serif' font-size="10.3" fill="#444">m</text>
<text stroke="none" transform="translate(341.10,553.40) scale(0.8,1)" x="0.00 6.09 12.18 19.59 24.35 30.62 36.70" y="0" font-family='"Liberation Serif", serif' font-size="10.3" fill="#444" xml:space="preserve">   - FP</text>
<text stroke="none" transform="translate(341.22,553.40) scale(0.622,1)" x="0" y="0" font-family='"Liberation Serif", serif' font-size="10.3" fill="#444">U</text>
<text stroke="none" transform="translate(346.09,553.40) scale(0.673,1)" x="0" y="0" font-family='"Liberation Serif", serif' font-size="10.3" fill="#444">B</text>
<text stroke="none" transform="translate(350.96,553.40) scale(0.673,1)" x="0" y="0" font-family='"Liberation Serif", serif' font-size="10.3" fill="#444">C</text>
<text stroke="none" transform="translate(360.70,553.40) scale(0.622,1)" x="0" y="0" font-family='"Liberation Serif", serif' font-size="10.3" fill="#444">G</text>
<text stroke="none" transform="translate(386.60,553.40) scale(0.8,1)" x="1.33 7.70 13.79 19.59 25.96 32.05 36.99 43.37 49.17 56.12 62.49 66.96 74.38 79.90" y="0" font-family='"Liberation Serif", serif' font-size="10.3" fill="#444" xml:space="preserve">fl/fl:vav-i re</text>
<text stroke="none" transform="translate(440.29,553.40) scale(0.673,1)" x="0" y="0" font-family='"Liberation Serif", serif' font-size="10.3" fill="#444">C</text>
<text stroke="none" transform="translate(462.90,553.40) scale(0.8,1)" x="1.33 6.85 12.18 19.02 25.96 31.20" y="0" font-family='"Liberation Serif", serif' font-size="10.3" fill="#444" xml:space="preserve">fe ale</text>
<text stroke="none" transform="translate(472.76,553.40) scale(0.577,1)" x="0" y="0" font-family='"Liberation Serif", serif' font-size="10.3" fill="#444">m</text>
<text stroke="none" transform="translate(341.10,565.40) scale(0.8,1)" x="0.00 6.09 12.64 18.73 26.11 30.91" y="0" font-family='"Liberation Serif", serif' font-size="10.3" fill="#444" xml:space="preserve">  45.1</text>
<text stroke="none" transform="translate(341.22,565.40) scale(0.673,1)" x="0" y="0" font-family='"Liberation Serif", serif' font-size="10.3" fill="#444">C</text>
<text stroke="none" transform="translate(346.09,565.40) scale(0.622,1)" x="0" y="0" font-family='"Liberation Serif", serif' font-size="10.3" fill="#444">D</text>
<text stroke="none" transform="translate(386.60,565.40) scale(0.8,1)" x="1.33 7.70 13.79 18.26 25.96 30.91 37.28 43.08 50.03 56.40 60.87 68.29 73.81" y="0" font-family='"Liberation Serif", serif' font-size="10.3" fill="#444" xml:space="preserve">fl/ :vav-i re</text>
<text stroke="none" transform="translate(401.33,565.40) scale(0.796,1)" x="0" y="0" font-family='"Liberation Serif", serif' font-size="10.3" fill="#444">+</text>
<text stroke="none" transform="translate(435.42,565.40) scale(0.673,1)" x="0" y="0" font-family='"Liberation Serif", serif' font-size="10.3" fill="#444">C</text>
<text stroke="none" transform="translate(462.90,565.40) scale(0.8,1)" x="1.33 6.85 12.18 19.02 25.96 31.20" y="0" font-family='"Liberation Serif", serif' font-size="10.3" fill="#444" xml:space="preserve">fe ale</text>
<text stroke="none" transform="translate(472.76,565.40) scale(0.577,1)" x="0" y="0" font-family='"Liberation Serif", serif' font-size="10.3" fill="#444">m</text>
<text stroke="none" transform="translate(341.10,577.40) scale(0.8,1)" x="0.00 6.09 12.64 18.73 26.11 30.91" y="0" font-family='"Liberation Serif", serif' font-size="10.3" fill="#444" xml:space="preserve">  45.1</text>
<text stroke="none" transform="translate(341.22,577.40) scale(0.673,1)" x="0" y="0" font-family='"Liberation Serif", serif' font-size="10.3" fill="#444">C</text>
<text stroke="none" transform="translate(346.09,577.40) scale(0.622,1)" x="0" y="0" font-family='"Liberation Serif", serif' font-size="10.3" fill="#444">D</text>
<text stroke="none" transform="translate(386.60,577.40) scale(0.8,1)" x="1.33 7.70 13.79 19.59 25.96 32.05 36.99 43.37 49.17 56.12 62.49 66.96 74.38 79.90" y="0" font-family='"Liberation Serif", serif' font-size="10.3" fill="#444" xml:space="preserve">fl/fl;vav-i re</text>
<text stroke="none" transform="translate(440.29,577.40) scale(0.673,1)" x="0" y="0" font-family='"Liberation Serif", serif' font-size="10.3" fill="#444">C</text>
<text stroke="none" transform="translate(462.90,577.40) scale(0.8,1)" x="1.33 6.85 12.18 19.02 25.96 31.20" y="0" font-family='"Liberation Serif", serif' font-size="10.3" fill="#444" xml:space="preserve">fe ale</text>
<text stroke="none" transform="translate(472.76,577.40) scale(0.577,1)" x="0" y="0" font-family='"Liberation Serif", serif' font-size="10.3" fill="#444">m</text>
<text stroke="none" transform="translate(341.10,589.40) scale(0.8,1)" x="0.00 6.09 12.18 19.59 24.35 30.62 36.70" y="0" font-family='"Liberation Serif", serif' font-size="10.3" fill="#444" xml:space="preserve">   - FP</text>
<text stroke="none" transform="translate(341.22,589.40) scale(0.622,1)" x="0" y="0" font-family='"Liberation Serif", serif' font-size="10.3" fill="#444">U</text>
<text stroke="none" transform="translate(346.09,589.40) scale(0.673,1)" x="0" y="0" font-family='"Liberation Serif", serif' font-size="10.3" fill="#444">B</text>
<text stroke="none" transform="translate(350.96,589.40) scale(0.673,1)" x="0" y="0" font-family='"Liberation Serif", serif' font-size="10.3" fill="#444">C</text>
<text stroke="none" transform="translate(360.70,589.40) scale(0.622,1)" x="0" y="0" font-family='"Liberation Serif", serif' font-size="10.3" fill="#444">G</text>
<text stroke="none" transform="translate(386.60,589.40) scale(0.8,1)" x="1.33 7.70 13.79 19.59 25.96" y="0" font-family='"Liberation Serif", serif' font-size="10.3" fill="#444" xml:space="preserve">fl/fl</text>
<text stroke="none" transform="translate(462.90,589.40) scale(0.8,1)" x="1.33 6.85 12.18 19.02 25.96 31.20" y="0" font-family='"Liberation Serif", serif' font-size="10.3" fill="#444" xml:space="preserve">fe ale</text>
<text stroke="none" transform="translate(472.76,589.40) scale(0.577,1)" x="0" y="0" font-family='"Liberation Serif", serif' font-size="10.3" fill="#444">m</text>
<text stroke="none" transform="translate(341.10,601.40) scale(0.8,1)" x="0.00 6.09 12.18 19.59 24.35 30.62 36.70" y="0" font-family='"Liberation Serif", serif' font-size="10.3" fill="#444" xml:space="preserve">   - FP</text>
<text stroke="none" transform="translate(341.22,601.40) scale(0.622,1)" x="0" y="0" font-family='"Liberation Serif", serif' font-size="10.3" fill="#444">U</text>
<text stroke="none" transform="translate(346.09,601.40) scale(0.673,1)" x="0" y="0" font-family='"Liberation Serif", serif' font-size="10.3" fill="#444">B</text>
<text stroke="none" transform="translate(350.96,601.40) scale(0.673,1)" x="0" y="0" font-family='"Liberation Serif", serif' font-size="10.3" fill="#444">C</text>
<text stroke="none" transform="translate(360.70,601.40) scale(0.622,1)" x="0" y="0" font-family='"Liberation Serif", serif' font-size="10.3" fill="#444">G</text>
<text stroke="none" transform="translate(386.60,601.40) scale(0.8,1)" x="1.33 7.70 13.79 19.59 25.96 32.05 36.53 43.08 48.70 56.12 61.63" y="0" font-family='"Liberation Serif", serif' font-size="10.3" fill="#444" xml:space="preserve">fl/fl: x re</text>
<text stroke="none" transform="translate(415.94,601.40) scale(0.505,1)" x="0" y="0" font-family='"Liberation Serif", serif' font-size="10.3" fill="#444">M</text>
<text stroke="none" transform="translate(425.68,601.40) scale(0.673,1)" x="0" y="0" font-family='"Liberation Serif", serif' font-size="10.3" fill="#444">C</text>
<text stroke="none" transform="translate(462.90,601.40) scale(0.8,1)" x="1.33 6.85 12.18 19.02 25.96 31.20" y="0" font-family='"Liberation Serif", serif' font-size="10.3" fill="#444" xml:space="preserve">fe ale</text>
<text stroke="none" transform="translate(472.76,601.40) scale(0.577,1)" x="0" y="0" font-family='"Liberation Serif", serif' font-size="10.3" fill="#444">m</text>
<text stroke="none" transform="translate(341.10,613.40) scale(0.8,1)" x="0.00 6.09 12.18 19.59 24.35 30.62 36.70" y="0" font-family='"Liberation Serif", serif' font-size="10.3" fill="#444" xml:space="preserve">   - FP</text>
<text stroke="none" transform="translate(341.22,613.40) scale(0.622,1)" x="0" y="0" font-family='"Liberation Serif", serif' font-size="10.3" fill="#444">U</text>
<text stroke="none" transform="translate(346.09,613.40) scale(0.673,1)" x="0" y="0" font-family='"Liberation Serif", serif' font-size="10.3" fill="#444">B</text>
<text stroke="none" transform="translate(350.96,613.40) scale(0.673,1)" x="0" y="0" font-family='"Liberation Serif", serif' font-size="10.3" fill="#444">C</text>
<text stroke="none" transform="translate(360.70,613.40) scale(0.622,1)" x="0" y="0" font-family='"Liberation Serif", serif' font-size="10.3" fill="#444">G</text>
<text stroke="none" transform="translate(386.60,613.40) scale(0.8,1)" x="1.33 7.70 13.79 19.59 25.96" y="0" font-family='"Liberation Serif", serif' font-size="10.3" fill="#444" xml:space="preserve">fl/fl</text>
<text stroke="none" transform="translate(462.90,613.40) scale(0.8,1)" x="0.00 6.85 13.79 19.02" y="0" font-family='"Liberation Serif", serif' font-size="10.3" fill="#444" xml:space="preserve"> ale</text>
<text stroke="none" transform="translate(463.02,613.40) scale(0.577,1)" x="0" y="0" font-family='"Liberation Serif", serif' font-size="10.3" fill="#444">m</text>
<text stroke="none" transform="translate(341.10,625.40) scale(0.8,1)" x="0.00 6.09 12.18 19.59 24.35 30.62 36.70" y="0" font-family='"Liberation Serif", serif' font-size="10.3" fill="#444" xml:space="preserve">   - FP</text>
<text stroke="none" transform="translate(341.22,625.40) scale(0.622,1)" x="0" y="0" font-family='"Liberation Serif", serif' font-size="10.3" fill="#444">U</text>
<text stroke="none" transform="translate(346.09,625.40) scale(0.673,1)" x="0" y="0" font-family='"Liberation Serif", serif' font-size="10.3" fill="#444">B</text>
<text stroke="none" transform="translate(350.96,625.40) scale(0.673,1)" x="0" y="0" font-family='"Liberation Serif", serif' font-size="10.3" fill="#444">C</text>
<text stroke="none" transform="translate(360.70,625.40) scale(0.622,1)" x="0" y="0" font-family='"Liberation Serif", serif' font-size="10.3" fill="#444">G</text>
<text stroke="none" transform="translate(386.60,625.40) scale(0.8,1)" x="1.33 7.70 13.79 19.59 25.96 32.05 36.53 43.08 48.70 56.12 61.63" y="0" font-family='"Liberation Serif", serif' font-size="10.3" fill="#444" xml:space="preserve">fl/fl: x re</text>
<text stroke="none" transform="translate(415.94,625.40) scale(0.505,1)" x="0" y="0" font-family='"Liberation Serif", serif' font-size="10.3" fill="#444">M</text>
<text stroke="none" transform="translate(425.68,625.40) scale(0.673,1)" x="0" y="0" font-family='"Liberation Serif", serif' font-size="10.3" fill="#444">C</text>
<text stroke="none" transform="translate(462.90,625.40) scale(0.8,1)" x="0.00 6.85 13.79 19.02" y="0" font-family='"Liberation Serif", serif' font-size="10.3" fill="#444" xml:space="preserve"> ale</text>
<text stroke="none" transform="translate(463.02,625.40) scale(0.577,1)" x="0" y="0" font-family='"Liberation Serif", serif' font-size="10.3" fill="#444">m</text>
<text stroke="none" transform="translate(341.10,637.40) scale(0.8,1)" x="0.00 6.09 12.64 18.73 26.11 30.91" y="0" font-family='"Liberation Serif", serif' font-size="10.3" fill="#444" xml:space="preserve">  45.1</text>
<text stroke="none" transform="translate(341.22,637.40) scale(0.673,1)" x="0" y="0" font-family='"Liberation Serif", serif' font-size="10.3" fill="#444">C</text>
<text stroke="none" transform="translate(346.09,637.40) scale(0.622,1)" x="0" y="0" font-family='"Liberation Serif", serif' font-size="10.3" fill="#444">D</text>
<text stroke="none" transform="translate(386.60,637.40) scale(0.8,1)" x="1.33 7.70 13.79 19.59 25.96" y="0" font-family='"Liberation Serif", serif' font-size="10.3" fill="#444" xml:space="preserve">fl/fl</text>
<text stroke="none" transform="translate(462.90,637.40) scale(0.8,1)" x="1.33 6.85 12.18 19.02 25.96 31.20" y="0" font-family='"Liberation Serif", serif' font-size="10.3" fill="#444" xml:space="preserve">fe ale</text>
<text stroke="none" transform="translate(472.76,637.40) scale(0.577,1)" x="0" y="0" font-family='"Liberation Serif", serif' font-size="10.3" fill="#444">m</text>
<text stroke="none" transform="translate(341.10,649.40) scale(0.8,1)" x="0.00 6.09 12.64 18.73 26.11 30.91" y="0" font-family='"Liberation Serif", serif' font-size="10.3" fill="#444" xml:space="preserve">  45.1</text>
<text stroke="none" transform="translate(341.22,649.40) scale(0.673,1)" x="0" y="0" font-family='"Liberation Serif", serif' font-size="10.3" fill="#444">C</text>
<text stroke="none" transform="translate(346.09,649.40) scale(0.622,1)" x="0" y="0" font-family='"Liberation Serif", serif' font-size="10.3" fill="#444">D</text>
<text stroke="none" transform="translate(386.60,649.40) scale(0.8,1)" x="1.33 7.70 13.79 19.59 25.96 32.05 36.53 43.08 48.70 56.12 61.63" y="0" font-family='"Liberation Serif", serif' font-size="10.3" fill="#444" xml:space="preserve">fl/fl: x re</text>
<text stroke="none" transform="translate(415.94,649.40) scale(0.505,1)" x="0" y="0" font-family='"Liberation Serif", serif' font-size="10.3" fill="#444">M</text>
<text stroke="none" transform="translate(425.68,649.40) scale(0.673,1)" x="0" y="0" font-family='"Liberation Serif", serif' font-size="10.3" fill="#444">C</text>
<text stroke="none" transform="translate(462.90,649.40) scale(0.8,1)" x="1.33 6.85 12.18 19.02 25.96 31.20" y="0" font-family='"Liberation Serif", serif' font-size="10.3" fill="#444" xml:space="preserve">fe ale</text>
<text stroke="none" transform="translate(472.76,649.40) scale(0.577,1)" x="0" y="0" font-family='"Liberation Serif", serif' font-size="10.3" fill="#444">m</text>
</g>
</svg>
</body></html>
